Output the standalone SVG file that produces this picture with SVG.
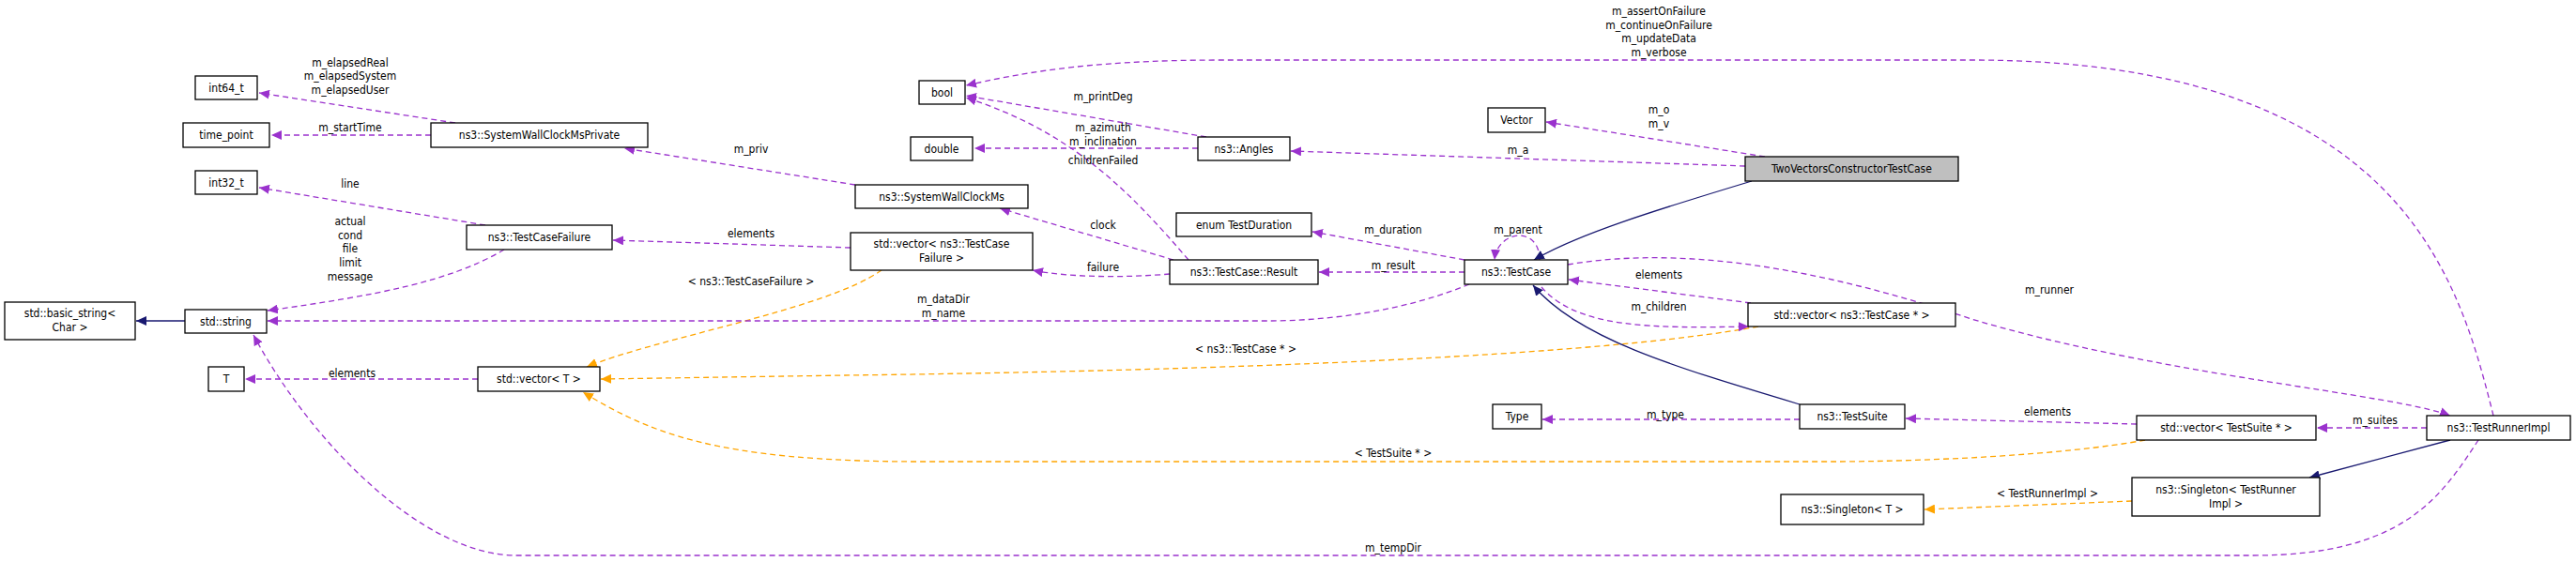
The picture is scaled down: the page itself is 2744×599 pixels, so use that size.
<svg xmlns="http://www.w3.org/2000/svg" width="2744" height="599" viewBox="0 0 2744 599">
<style>
.n rect{fill:#fff;stroke:#000;stroke-width:1.3}
.n text,.l text{font-family:"DejaVu Sans Condensed","DejaVu Sans",sans-serif;font-size:12px;fill:#000;text-anchor:middle}
.p{fill:none;stroke:#9a32cd;stroke-width:1.3;stroke-dasharray:6,4}
.o{fill:none;stroke:#ffa500;stroke-width:1.3;stroke-dasharray:6,4}
.b{fill:none;stroke:#191970;stroke-width:1.3}
</style>
<defs>
<marker id="mp" markerUnits="userSpaceOnUse" markerWidth="12" markerHeight="10" refX="11" refY="5" orient="auto"><path d="M0,0L11,5L0,10z" fill="#9a32cd"/></marker>
<marker id="mo" markerUnits="userSpaceOnUse" markerWidth="12" markerHeight="10" refX="11" refY="5" orient="auto"><path d="M0,0L11,5L0,10z" fill="#ffa500"/></marker>
<marker id="mb" markerUnits="userSpaceOnUse" markerWidth="12" markerHeight="10" refX="11" refY="5" orient="auto"><path d="M0,0L11,5L0,10z" fill="#191970"/></marker>
</defs>
<rect width="2744" height="599" fill="#fff"/>
<g id="edges">
<path class="p" marker-end="url(#mp)" d="M485,131L276,99"/>
<path class="p" marker-end="url(#mp)" d="M459,144L289,144"/>
<path class="p" marker-end="url(#mp)" d="M911,197L665,158"/>
<path class="p" marker-end="url(#mp)" d="M517,240L276,200"/>
<path class="p" marker-end="url(#mp)" d="M537,266C480,300 400,315 285,331"/>
<path class="b" marker-end="url(#mb)" d="M197,342L145,342"/>
<path class="p" marker-end="url(#mp)" d="M509,404L261,404"/>
<path class="p" marker-end="url(#mp)" d="M906,264L653,256"/>
<path class="o" marker-end="url(#mo)" d="M939,288C880,330 700,360 625,391"/>
<path class="p" marker-end="url(#mp)" d="M1565,303C1500,330 1420,342 1350,342L285,342"/>
<path class="o" marker-end="url(#mo)" d="M1873,348C1700,380 1300,395 900,400L640,404"/>
<path class="o" marker-end="url(#mo)" d="M2285,469C2200,485 2050,492 1950,492L980,492C760,492 690,460 621,418"/>
<path class="p" marker-end="url(#mp)" d="M2640,469C2600,530 2560,592 2400,592L550,592C450,592 330,470 270,357"/>
<path class="p" marker-end="url(#mp)" d="M2656,443C2620,300 2560,64 2100,64L1300,64C1150,64 1080,80 1029,91"/>
<path class="p" marker-end="url(#mp)" d="M1285,146L1029,102"/>
<path class="p" marker-end="url(#mp)" d="M1276,158L1038,158"/>
<path class="p" marker-end="url(#mp)" d="M1266,277C1200,200 1140,140 1029,104"/>
<path class="p" marker-end="url(#mp)" d="M1250,277L1065,222"/>
<path class="p" marker-end="url(#mp)" d="M1246,292C1200,296 1140,296 1100,288"/>
<path class="p" marker-end="url(#mp)" d="M1560,290L1405,290"/>
<path class="p" marker-end="url(#mp)" d="M1560,277L1398,247"/>
<path class="p" marker-end="url(#mp)" d="M1640,277C1640,240 1595,245 1592,277"/>
<path class="b" marker-end="url(#mb)" d="M1866,193C1760,225 1680,250 1634,277"/>
<path class="p" marker-end="url(#mp)" d="M1880,167L1647,130"/>
<path class="p" marker-end="url(#mp)" d="M1859,177L1375,161"/>
<path class="p" marker-end="url(#mp)" d="M1865,323L1671,298"/>
<path class="p" marker-end="url(#mp)" d="M1642,306C1680,350 1760,350 1863,348"/>
<path class="p" marker-end="url(#mp)" d="M1670,282C1800,260 1950,290 2100,340C2300,400 2550,420 2610,443"/>
<path class="b" marker-end="url(#mb)" d="M1917,431C1780,390 1680,360 1633,304"/>
<path class="p" marker-end="url(#mp)" d="M1917,447L1643,447"/>
<path class="p" marker-end="url(#mp)" d="M2276,452L2030,446"/>
<path class="p" marker-end="url(#mp)" d="M2585,456L2468,456"/>
<path class="b" marker-end="url(#mb)" d="M2610,469L2460,509"/>
<path class="o" marker-end="url(#mo)" d="M2271,534L2050,543"/>
</g>
<g class="l">
<text x="373" y="71">m_elapsedReal</text><text x="373" y="85">m_elapsedSystem</text><text x="373" y="100">m_elapsedUser</text>
<text x="373" y="140">m_startTime</text>
<text x="800" y="163">m_priv</text>
<text x="373" y="200">line</text>
<text x="373" y="240">actual</text><text x="373" y="255">cond</text><text x="373" y="269">file</text><text x="373" y="284">limit</text><text x="373" y="299">message</text>
<text x="375" y="402">elements</text>
<text x="800" y="253">elements</text>
<text x="800" y="304">&lt; ns3::TestCaseFailure &gt;</text>
<text x="1005" y="323">m_dataDir</text><text x="1005" y="338">m_name</text>
<text x="1327" y="376">&lt; ns3::TestCase * &gt;</text>
<text x="1484" y="487">&lt; TestSuite * &gt;</text>
<text x="1484" y="588">m_tempDir</text>
<text x="1767" y="16">m_assertOnFailure</text><text x="1767" y="31">m_continueOnFailure</text><text x="1767" y="45">m_updateData</text><text x="1767" y="60">m_verbose</text>
<text x="1175" y="107">m_printDeg</text>
<text x="1175" y="140">m_azimuth</text><text x="1175" y="155">m_inclination</text>
<text x="1175" y="175">childrenFailed</text>
<text x="1175" y="244">clock</text>
<text x="1175" y="289">failure</text>
<text x="1484" y="287">m_result</text>
<text x="1484" y="249">m_duration</text>
<text x="1617" y="249">m_parent</text>
<text x="1767" y="121">m_o</text><text x="1767" y="136">m_v</text>
<text x="1617" y="164">m_a</text>
<text x="1767" y="297">elements</text>
<text x="1767" y="331">m_children</text>
<text x="2183" y="313">m_runner</text>
<text x="1774" y="446">m_type</text>
<text x="2181" y="443">elements</text>
<text x="2530" y="452">m_suites</text>
<text x="2181" y="530">&lt; TestRunnerImpl &gt;</text>
</g>
<g id="int64_t" class="n"><rect x="208" y="81" width="66" height="25"/><text x="241" y="98">int64_t</text></g>
<g id="time_point" class="n"><rect x="195" y="131" width="92" height="26"/><text x="241" y="148">time_point</text></g>
<g id="SystemWallClockMsPrivate" class="n"><rect x="459" y="131" width="231" height="26"/><text x="574.5" y="148">ns3::SystemWallClockMsPrivate</text></g>
<g id="int32_t" class="n"><rect x="208" y="182" width="66" height="25"/><text x="241" y="199">int32_t</text></g>
<g id="TestCaseFailure" class="n"><rect x="497" y="240" width="155" height="26"/><text x="574.5" y="257">ns3::TestCaseFailure</text></g>
<g id="basic_string" class="n"><rect x="5" y="322" width="139" height="40"/><text x="74.5" y="338">std::basic_string&lt;</text><text x="74.5" y="353">Char &gt;</text></g>
<g id="std_string" class="n"><rect x="197" y="330" width="87" height="25"/><text x="240.5" y="347">std::string</text></g>
<g id="T" class="n"><rect x="222" y="391" width="38" height="26"/><text x="241" y="408">T</text></g>
<g id="vector_T" class="n"><rect x="509" y="391" width="130" height="26"/><text x="574" y="408">std::vector&lt; T &gt;</text></g>
<g id="bool" class="n"><rect x="979" y="86" width="49" height="25"/><text x="1003.5" y="103">bool</text></g>
<g id="double" class="n"><rect x="970" y="146" width="66" height="25"/><text x="1003" y="163">double</text></g>
<g id="Angles" class="n"><rect x="1276" y="146" width="98" height="25"/><text x="1325" y="163">ns3::Angles</text></g>
<g id="Vector" class="n"><rect x="1585" y="115" width="61" height="26"/><text x="1615.5" y="132">Vector</text></g>
<g id="TwoVectorsConstructorTestCase" class="n"><rect x="1859" y="167" width="227" height="26" style="fill:#bfbfbf"/><text x="1972.5" y="184">TwoVectorsConstructorTestCase</text></g>
<g id="SystemWallClockMs" class="n"><rect x="911" y="197" width="184" height="25"/><text x="1003" y="214">ns3::SystemWallClockMs</text></g>
<g id="vector_TestCaseFailure" class="n"><rect x="906" y="248" width="194" height="40"/><text x="1003" y="264">std::vector&lt; ns3::TestCase</text><text x="1003" y="279">Failure &gt;</text></g>
<g id="TestDuration" class="n"><rect x="1253" y="227" width="144" height="25"/><text x="1325" y="244">enum TestDuration</text></g>
<g id="Result" class="n"><rect x="1246" y="277" width="158" height="26"/><text x="1325" y="294">ns3::TestCase::Result</text></g>
<g id="TestCase" class="n"><rect x="1560" y="277" width="110" height="26"/><text x="1615" y="294">ns3::TestCase</text></g>
<g id="vector_TestCase" class="n"><rect x="1862" y="323" width="221" height="25"/><text x="1972.5" y="340">std::vector&lt; ns3::TestCase * &gt;</text></g>
<g id="Type" class="n"><rect x="1590" y="431" width="52" height="26"/><text x="1616" y="448">Type</text></g>
<g id="TestSuite" class="n"><rect x="1917" y="431" width="112" height="26"/><text x="1973" y="448">ns3::TestSuite</text></g>
<g id="vector_TestSuite" class="n"><rect x="2276" y="443" width="191" height="26"/><text x="2371.5" y="460">std::vector&lt; TestSuite * &gt;</text></g>
<g id="TestRunnerImpl" class="n"><rect x="2585" y="443" width="153" height="26"/><text x="2661.5" y="460">ns3::TestRunnerImpl</text></g>
<g id="Singleton_TRI" class="n"><rect x="2271" y="509" width="200" height="41"/><text x="2371" y="526">ns3::Singleton&lt; TestRunner</text><text x="2371" y="541">Impl &gt;</text></g>
<g id="Singleton_T" class="n"><rect x="1897" y="527" width="152" height="32"/><text x="1973" y="547">ns3::Singleton&lt; T &gt;</text></g>
</svg>
